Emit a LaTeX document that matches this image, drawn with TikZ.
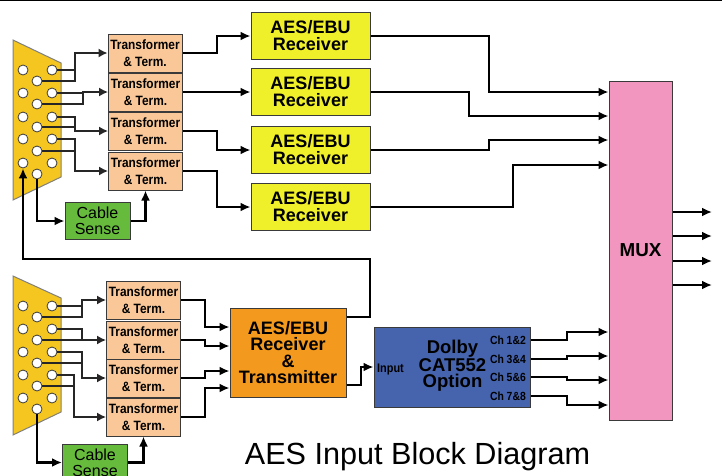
\documentclass[tikz,border=0pt]{standalone}
\usepackage{fontspec}
\setmainfont{Liberation Sans}
\newfontfamily\narrowfont[FakeStretch=0.88]{Liberation Sans}
\usepackage{xcolor}
\usetikzlibrary{arrows.meta}
\definecolor{plugyellow}{HTML}{F4C61F}
\definecolor{xfmrpeach}{HTML}{FAC898}
\definecolor{rxyellow}{HTML}{F0F02A}
\definecolor{sensegreen}{HTML}{66BB3C}
\definecolor{rtorange}{HTML}{F39A1E}
\definecolor{dolbyblue}{HTML}{4664AE}
\definecolor{muxpink}{HTML}{F295BF}
\definecolor{boxline}{HTML}{3A3A3A}
\tikzset{
  xfmr/.style={draw=boxline, line width=1pt, fill=xfmrpeach, minimum width=74pt, minimum height=38pt, inner sep=0pt, align=center, font=\narrowfont\bfseries\fontsize{13.5}{17}\selectfont},
  aesrx/.style={draw=boxline, line width=1pt, fill=rxyellow, minimum width=119pt, minimum height=47pt, inner sep=0pt, align=center, font=\bfseries\fontsize{18}{17}\selectfont},
  sense/.style={draw=boxline, line width=1pt, fill=sensegreen, inner sep=0pt, align=center, font=\fontsize{16}{16}\selectfont},
  plug/.style={draw=gray, line width=1pt, fill=plugyellow},
  pin/.style={circle, draw=boxline, line width=0.8pt, fill=white, minimum size=10pt, inner sep=0pt},
  wire/.style={line width=2.8pt, draw=black, -{Latex[length=10pt,width=9pt]}},
  pinwire/.style={line width=1.4pt, draw=black!85},
  pinarrow/.style={line width=1.4pt, draw=black!85, -{Latex[length=9pt,width=9pt]}},
  chlabel/.style={anchor=east, inner sep=0pt, font=\narrowfont\bfseries\fontsize{11.8}{12}\selectfont},
}
\begin{document}
\begin{tikzpicture}[x=1pt,y=-1pt]
\clip (0,0) rectangle (722,475);
\draw [line width=1.5pt] (0,0.5) -- (722,0.5);

% upper input
\filldraw [plug] (13,40) -- (61,63) -- (61,177) -- (13,200) --cycle;
\node [xfmr] (tfA) at (145,53) {Transformer\\\& Term.};
\node [xfmr] (tfB) at (145.5,92) {Transformer\\\& Term.};
\node [xfmr] (tfC) at (145.5,131) {Transformer\\\& Term.};
\node [xfmr] (tfD) at (145.5,171) {Transformer\\\& Term.};
\node [aesrx] (rxA) at (310.5,36) {AES/EBU\\Receiver};
\node [aesrx] (rxB) at (310.5,92) {AES/EBU\\Receiver};
\node [aesrx] (rxC) at (310.5,150) {AES/EBU\\Receiver};
\node [aesrx] (rxD) at (310.5,207) {AES/EBU\\Receiver};
\node [sense, minimum width=65pt, minimum height=37pt] (senseA) at (97.5,221) {Cable\\Sense};

\coordinate (jointA) at (75,53);
\coordinate (jointB) at (83,92);
\coordinate (jointC) at (75,131);
\coordinate (jointD) at (75,171);
\node [pin] (pinAa) at (23,70) {};
\node [pin] (pinAb) at (23,93) {};
\node [pin] (pinAc) at (23,117) {};
\node [pin] (pinAd) at (23,139) {};
\node [pin] (pinAe) at (23,163) {};
\node [pin] (pinAf) at (37,81) {};
\node [pin] (pinAg) at (37,104) {};
\node [pin] (pinAh) at (37,127) {};
\node [pin] (pinAi) at (37,151) {};
\node [pin] (pinAj) at (37,174) {};
\node [pin] (pinAk) at (52,70) {};
\node [pin] (pinAl) at (52,93) {};
\node [pin] (pinAm) at (52,117) {};
\node [pin] (pinAn) at (52,139) {};
\node [pin] (pinAo) at (52,163) {};

\draw [pinwire] (pinAf.east) -| (jointA);
\draw [pinarrow] (pinAk.east) -| (jointA) -- (tfA.west);
\draw [pinwire] (pinAg.east) -| (jointB);
\draw [pinarrow] (pinAl.east) -| (jointB) -- (tfB.west);
\draw [pinwire] (pinAh.east) -- (jointC |- pinAh);
\draw [pinarrow] (pinAm.east) -| (jointC) -- (tfC.west);
\draw [pinwire] (pinAi.east) -- (jointD |- pinAi);
\draw [pinarrow] (pinAn.east) -| (jointD) -- (tfD.west);
\draw [wire] (pinAj.south) |- (senseA.west);
\draw [wire] (senseA.east) -| (tfD.south);

\coordinate (stepA) at (217,36);
\coordinate (stepC) at (217,150);
\coordinate (stepD) at (217,207);
\draw [wire] (tfA.east) -| (stepA) -- (rxA.west);
\draw [wire] (tfB.east) -- (rxB.west);
\draw [wire] (tfC.east) -| (stepC) -- (rxC.west);
\draw [wire] (tfD.east) -| (stepD) -- (rxD.west);

% lower input
\filldraw [plug] (13,276) -- (61,298) -- (61,412) -- (13,435) --cycle;
\node [xfmr] (tfE) at (143.5,300) {Transformer\\\& Term.};
\node [xfmr] (tfF) at (143.5,340) {Transformer\\\& Term.};
\node [xfmr] (tfG) at (143.5,378) {Transformer\\\& Term.};
\node [xfmr] (tfH) at (143.5,417) {Transformer\\\& Term.};
\node [sense, minimum width=65pt, minimum height=37pt] (senseB) at (95,462.5) {Cable\\Sense};

\coordinate (jointE) at (82,300);
\coordinate (jointF) at (82,340);
\coordinate (jointG) at (82,378);
\coordinate (jointH) at (74,417);
\node [pin] (pinBa) at (23,306) {};
\node [pin] (pinBb) at (23,329) {};
\node [pin] (pinBc) at (23,352) {};
\node [pin] (pinBd) at (23,375) {};
\node [pin] (pinBe) at (23,398) {};
\node [pin] (pinBf) at (37,317) {};
\node [pin] (pinBg) at (37,340) {};
\node [pin] (pinBh) at (37,363) {};
\node [pin] (pinBi) at (37,386) {};
\node [pin] (pinBj) at (37,409) {};
\node [pin] (pinBk) at (52,306) {};
\node [pin] (pinBl) at (52,329) {};
\node [pin] (pinBm) at (52,352) {};
\node [pin] (pinBn) at (52,375) {};
\node [pin] (pinBo) at (52,398) {};

\draw [pinwire] (pinBf.east) -| (jointE);
\draw [pinarrow] (pinBk.east) -| (jointE) -- (tfE.west);
\draw [pinwire] (pinBg.east) -- (jointF);
\draw [pinarrow] (pinBl.east) -| (jointF) -- (tfF.west);
\draw [pinwire] (pinBh.east) -- (jointG |- pinBh);
\draw [pinarrow] (pinBm.east) -| (jointG) -- (tfG.west);
\draw [pinwire] (pinBi.east) -- (jointH |- pinBi);
\draw [pinarrow] (pinBn.east) -| (jointH) -- (tfH.west);
\draw [wire] (pinBj.south) |- (senseB.west);
\draw [wire] (senseB.east) -| (tfH.south);

% receiver, option and mux
\node [draw=boxline, line width=1pt, fill=rtorange, minimum width=116pt, minimum height=89pt, inner sep=0pt, align=center, font=\bfseries\fontsize{18}{16.5}\selectfont] (rxtx) at (288,352.5) {AES/EBU\\Receiver\\\&\\Transmitter};
\node [draw=boxline, line width=1pt, fill=dolbyblue, minimum width=156pt, minimum height=80pt, inner sep=0pt] (dolby) at (452,367) {};
\node [align=center, inner sep=0pt, font=\bfseries\fontsize{18.5}{16.5}\selectfont] (dolbyname) at (452.5,366) {Dolby\\CAT552\\Option};
\node [anchor=west, inner sep=0pt, font=\narrowfont\bfseries\fontsize{12.4}{12}\selectfont] (input) at (377,370) {Input};
\node [chlabel] (chA) at (526,340) {Ch 1\&2};
\node [chlabel] (chB) at (526,359) {Ch 3\&4};
\node [chlabel] (chC) at (526,377) {Ch 5\&6};
\node [chlabel] (chD) at (526,396) {Ch 7\&8};
\node [draw=boxline, line width=1pt, fill=muxpink, minimum width=63pt, minimum height=339pt, inner sep=0pt, font=\bfseries\fontsize{18.8}{17}\selectfont] (mux) at (640.5,250.5) {MUX};

\draw [wire] (rxA.east) -- (489,36) -- (489,92) -- (mux.west |- 0,92);
\draw [wire] (rxB.east) -- (469,92) -- (469,116) -- (mux.west |- 0,116);
\draw [wire] (rxC.east) -- (489,150) -- (489,140) -- (mux.west |- 0,140);
\draw [wire] (rxD.east) -- (513,207) -- (513,165) -- (mux.west |- 0,165);

\draw [wire] (rxtx.east |- 0,317) -- (370,317) -- (370,259) -- (pinAe.south |- 0,259) -- (pinAe.south);
\draw [wire] (rxtx.east |- 0,385) -- (361,385) -- (361,367) -- (dolby.west);

\draw [wire] (tfE.east) -- (205,300) -- (205,327) -- (rxtx.west |- 0,327);
\draw [wire] (tfF.east) -- (205,340) -- (205,346) -- (rxtx.west |- 0,346);
\draw [wire] (tfG.east) -- (205,378) -- (205,371) -- (rxtx.west |- 0,371);
\draw [wire] (tfH.east) -- (205,417) -- (205,388) -- (rxtx.west |- 0,388);

\draw [wire] (dolby.east |- chA) -- (567,340) -- (567,332) -- (mux.west |- 0,332);
\draw [wire] (dolby.east |- chB) -- (567,359) -- (567,356) -- (mux.west |- 0,356);
\draw [wire] (dolby.east |- chC) -- (567,377) -- (567,380) -- (mux.west |- 0,380);
\draw [wire] (dolby.east |- chD) -- (567,396) -- (567,405) -- (mux.west |- 0,405);

\coordinate (outA) at (712,212);
\coordinate (outB) at (712,236);
\coordinate (outC) at (712,261);
\coordinate (outD) at (712,285);
\draw [wire] (mux.east |- outA) -- (outA);
\draw [wire] (mux.east |- outB) -- (outB);
\draw [wire] (mux.east |- outC) -- (outC);
\draw [wire] (mux.east |- outD) -- (outD);

\node [inner sep=0pt, font=\fontsize{30.6}{32}\selectfont] (title) at (417.5,457) {AES Input Block Diagram};
\end{tikzpicture}
\end{document}
